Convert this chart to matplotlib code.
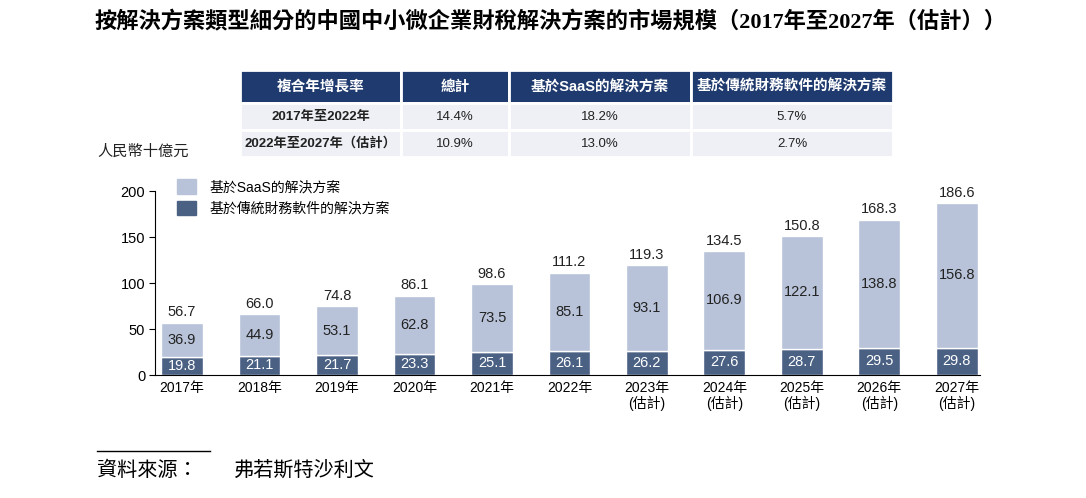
import numpy as np
import matplotlib.pyplot as plt
from matplotlib.patches import Patch

plt.rcParams['font.family'] = ['Liberation Sans', 'Noto Sans CJK TC', 'DejaVu Sans']

# market size, RMB billion
years = ['2017年', '2018年', '2019年', '2020年', '2021年', '2022年',
         '2023年\n(估計)', '2024年\n(估計)', '2025年\n(估計)', '2026年\n(估計)', '2027年\n(估計)']
traditional = [19.8, 21.1, 21.7, 23.3, 25.1, 26.1, 26.2, 27.6, 28.7, 29.5, 29.8]
saas = [36.9, 44.9, 53.1, 62.8, 73.5, 85.1, 93.1, 106.9, 122.1, 138.8, 156.8]
totals = [56.7, 66.0, 74.8, 86.1, 98.6, 111.2, 119.3, 134.5, 150.8, 168.3, 186.6]

# CAGR table
cagr_header = ['複合年增長率', '總計', '基於SaaS的解決方案', '基於傳統財務軟件的解決方案']
cagr_rows = [['2017年至2022年', '14.4%', '18.2%', '5.7%'],
             ['2022年至2027年（估計）', '10.9%', '13.0%', '2.7%']]

light = '#b8c3d9'
dark = '#4a6184'
navy = '#1f3a6e'

fig = plt.figure(figsize=(10.86, 4.98), dpi=100)

fig.text(0.507, 0.955, '按解決方案類型細分的中國中小微企業財稅解決方案的市場規模（2017年至2027年（估計））',
         ha='center', va='center', fontsize=16, fontweight='bold',
         family=['Liberation Serif', 'Noto Sans CJK TC'])

# table
tax = fig.add_axes([240/1086, 1-157/498, 653/1086, 87/498])
tax.axis('off')
tbl = tax.table(cellText=[cagr_header] + cagr_rows, bbox=[0, 0, 1, 1],
                colWidths=[161, 108, 182, 202], cellLoc='center')
tbl.auto_set_font_size(False)
for (r, c), cell in tbl.get_celld().items():
    cell.set_edgecolor('white')
    cell.set_linewidth(2)
    if r == 0:
        cell.set_facecolor(navy)
        cell.set_height(0.38)
        cell.get_text().set_color('white')
        cell.get_text().set_fontsize(10.5)
        cell.get_text().set_fontweight('bold')
    else:
        cell.set_facecolor('#eef0f5')
        cell.set_height(0.31)
        cell.get_text().set_fontsize(9.5)
        cell.get_text().set_color('#222222')
        if c == 0:
            cell.get_text().set_fontweight('bold')

fig.text(97/1086, 1-152/498, '人民幣十億元', ha='left', va='center', fontsize=11, color='#222222')

ax = fig.add_axes([155/1086, 1-375/498, 825/1086, 184/498])
x = np.arange(len(years))
w = 0.54
ax.bar(x, traditional, w, color=dark, edgecolor='white', linewidth=1, label='基於傳統財務軟件的解決方案')
ax.bar(x, saas, w, bottom=traditional, color=light, edgecolor='white', linewidth=1, label='基於SaaS的解決方案')

for i in range(len(years)):
    ax.text(x[i], traditional[i] / 2, f'{traditional[i]:.1f}', ha='center', va='center',
            color='white', fontsize=10.5)
    ax.text(x[i], traditional[i] + saas[i] / 2, f'{saas[i]:.1f}', ha='center', va='center',
            color='#222222', fontsize=10.5)
    ax.text(x[i], totals[i] + 4, f'{totals[i]:.1f}', ha='center', va='bottom',
            color='#222222', fontsize=10.5)

ax.set_xlim(-0.35, 10.3)
ax.set_ylim(0, 200)
ax.set_yticks([0, 50, 100, 150, 200])
ax.set_xticks(x)
ax.set_xticklabels(years, fontsize=10, linespacing=1.1)
ax.tick_params(axis='x', length=0, pad=4)
ax.tick_params(axis='y', length=4, labelsize=10.5, pad=3)
ax.spines['top'].set_visible(False)
ax.spines['right'].set_visible(False)

handles = [Patch(color=light), Patch(color=dark)]
fig.legend(handles, ['基於SaaS的解決方案', '基於傳統財務軟件的解決方案'],
           loc='upper left', bbox_to_anchor=(164/1086, 1-167/498), frameon=False,
           fontsize=10, handlelength=1.4, handleheight=1.2, labelspacing=0.45,
           handletextpad=1.0)

# source
fig.add_artist(plt.Line2D([97/1086, 210/1086], [1-451/498, 1-451/498], color='black', linewidth=1))
fig.text(97/1086, 1-470/498, '資料來源：', ha='left', va='center', fontsize=14.5, style='italic')
fig.text(233/1086, 1-470/498, '弗若斯特沙利文', ha='left', va='center', fontsize=14.5, style='italic')

fig.savefig('out.png', dpi=100)
